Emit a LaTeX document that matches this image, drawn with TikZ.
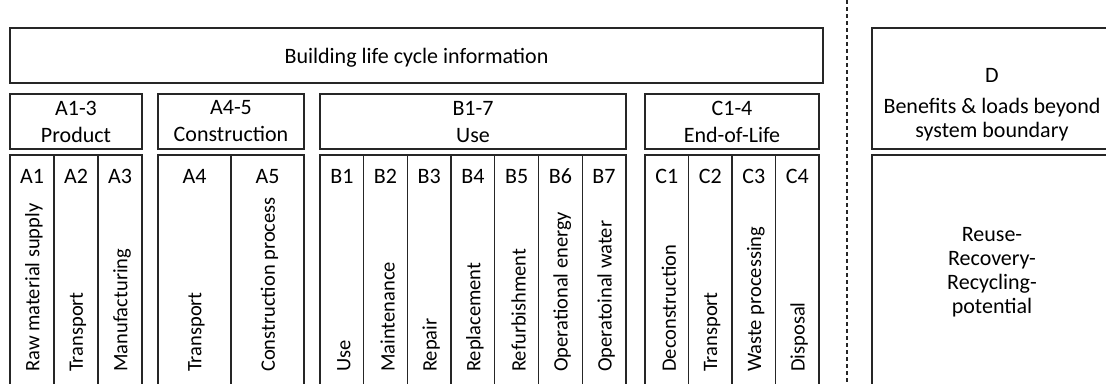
\documentclass[tikz,border=0pt]{standalone}
\usepackage{fontspec}
\setmainfont{Carlito}
\usepackage{tikz}

\tikzset{
  every node/.style={font=\fontsize{22}{27}\selectfont},
  box/.style={draw=black!85, line width=1.3pt, rectangle, inner sep=0pt, outer sep=0pt, anchor=north west},
  cell/.style={box, minimum height=234pt},
  head/.style={anchor=base, inner sep=0pt},
  vert/.style={rotate=90, anchor=west, inner sep=0pt, font=\fontsize{20.5}{24}\selectfont},
  small/.style={font=\fontsize{22}{24}\selectfont, align=center, inner sep=0pt}
}

\begin{document}
\begin{tikzpicture}[x=1pt,y=-1pt]
        \useasboundingbox (0,0) rectangle (1106,383);
        \clip (0,0) rectangle (1106,383);

        % top row
        \node[box, minimum width=813pt, minimum height=55pt, text depth=0pt] (lci) at (10,28) {Building life cycle information};

        % stage groups
        \node[box, minimum width=132pt, minimum height=55pt, align=center] (prod) at (10,94) {A1-3\\Product};
        \node[box, minimum width=146pt, minimum height=55pt, align=center] (constr) at (158,94) {A4-5\\Construction};
        \node[box, minimum width=306pt, minimum height=55pt, align=center] (use) at (320,94) {B1-7\\Use};
        \node[box, minimum width=174pt, minimum height=55pt, align=center] (eol) at (645,94) {C1-4\\End-of-Life};

        % A1-3
        \node[cell, minimum width=44pt] (A1) at (10,155) {};
        \node[head] (A1h) at (32,183) {A1};
        \node[vert] (A1v) at (34,372) {Raw material supply};
        \node[cell, minimum width=44pt] (A2) at (54,155) {};
        \node[head] (A2h) at (76,183) {A2};
        \node[vert] (A2v) at (78,372) {Transport};
        \node[cell, minimum width=44pt] (A3) at (98,155) {};
        \node[head] (A3h) at (120,183) {A3};
        \node[vert] (A3v) at (122,372) {Manufacturing};

        % A4-5
        \node[cell, minimum width=73pt] (A4) at (158,155) {};
        \node[head] (A4h) at (194.5,183) {A4};
        \node[vert] (A4v) at (196.5,372) {Transport};
        \node[cell, minimum width=73pt] (A5) at (231,155) {};
        \node[head] (A5h) at (267.5,183) {A5};
        \node[vert] (A5v) at (269.5,372) {Construction process};

        % B1-7
        \node[cell, minimum width=43.7pt] (B1) at (320,155) {};
        \node[head] (B1h) at (341.85,183) {B1};
        \node[vert] (B1v) at (343.85,372) {Use};
        \node[cell, minimum width=43.7pt] (B2) at (363.7,155) {};
        \node[head] (B2h) at (385.55,183) {B2};
        \node[vert] (B2v) at (387.55,372) {Maintenance};
        \node[cell, minimum width=43.7pt] (B3) at (407.4,155) {};
        \node[head] (B3h) at (429.25,183) {B3};
        \node[vert] (B3v) at (431.25,372) {Repair};
        \node[cell, minimum width=43.7pt] (B4) at (451.1,155) {};
        \node[head] (B4h) at (472.95,183) {B4};
        \node[vert] (B4v) at (474.95,372) {Replacement};
        \node[cell, minimum width=43.7pt] (B5) at (494.8,155) {};
        \node[head] (B5h) at (516.65,183) {B5};
        \node[vert] (B5v) at (518.65,372) {Refurbishment};
        \node[cell, minimum width=43.7pt] (B6) at (538.5,155) {};
        \node[head] (B6h) at (560.35,183) {B6};
        \node[vert] (B6v) at (562.35,372) {Operational energy};
        \node[cell, minimum width=43.7pt] (B7) at (582.2,155) {};
        \node[head] (B7h) at (604.05,183) {B7};
        \node[vert] (B7v) at (606.05,372) {Operatoinal water};

        % C1-4
        \node[cell, minimum width=43.5pt] (C1) at (645,155) {};
        \node[head] (C1h) at (666.75,183) {C1};
        \node[vert] (C1v) at (668.75,372) {Deconstruction};
        \node[cell, minimum width=43.5pt] (C2) at (688.5,155) {};
        \node[head] (C2h) at (710.25,183) {C2};
        \node[vert] (C2v) at (712.25,372) {Transport};
        \node[cell, minimum width=43.5pt] (C3) at (732,155) {};
        \node[head] (C3h) at (753.75,183) {C3};
        \node[vert] (C3v) at (755.75,372) {Waste processing};
        \node[cell, minimum width=43.5pt] (C4) at (775.5,155) {};
        \node[head] (C4h) at (797.25,183) {C4};
        \node[vert] (C4v) at (799.25,372) {Disposal};

        % system boundary
        \coordinate (bdtop) at (847,0);
        \coordinate (bdbot) at (847,383);
        \draw[black!85, line width=1.3pt, dash pattern=on 4pt off 3pt] (bdtop) -- (bdbot);

        % module D
        \node[box, minimum width=240pt, minimum height=121pt] (D) at (872,28) {};
        \node[small] (Dt) at (992,104.6) {D\\[7pt]Benefits \& loads beyond\\system boundary};
        \node[cell, minimum width=240pt, small] (Dpot) at (872,155) {Reuse-\\Recovery-\\Recycling-\\potential};

    \end{tikzpicture}
\end{document}
